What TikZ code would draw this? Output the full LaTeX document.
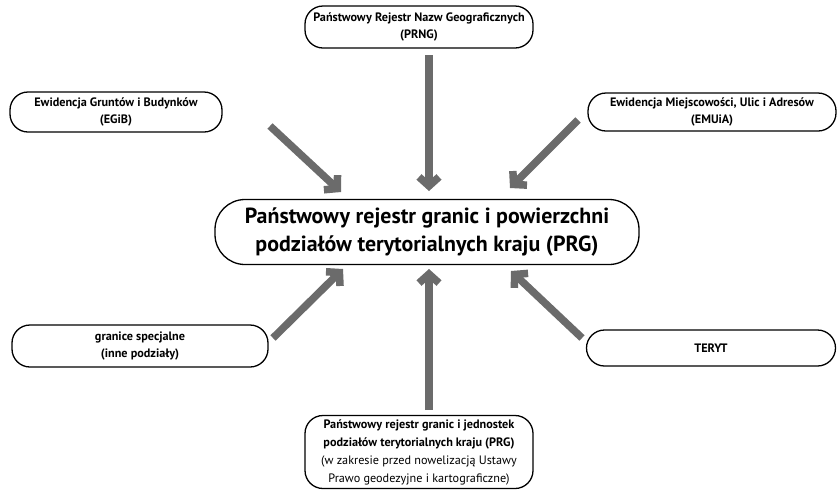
\documentclass[tikz,border=0pt]{standalone}
\usepackage{fontspec}
\setmainfont{PT Sans}
\usetikzlibrary{arrows.meta}
\definecolor{arrgray}{HTML}{6B6B6B}
\tikzset{
  box/.style={draw=black, line width=1.3pt, rounded corners=18pt, align=center, inner sep=0pt, font=\fontsize{12.2}{17.5}\selectfont\bfseries},
  arr/.style={draw=arrgray, line width=7.5pt, -{Straight Barb[length=9pt,width=20pt,line width=7.5pt]}},
}
\begin{document}
\begin{tikzpicture}[x=1pt,y=-1pt]
\useasboundingbox (0,0) rectangle (837,491);
\node[box, minimum width=228pt, minimum height=42pt] (prng) at (419,27) {Państwowy Rejestr Nazw Geograficznych\\(PRNG)};
\node[box, minimum width=212pt, minimum height=40pt] (egib) at (116,112) {Ewidencja Gruntów i Budynków\\(EGiB)};
\node[box, minimum width=248pt, minimum height=38pt] (emuia) at (712,112) {Ewidencja Miejscowości, Ulic i Adresów\\(EMUiA)};
\node[box, rounded corners=30pt, minimum width=424pt, minimum height=65pt, font=\fontsize{21.9}{28}\selectfont\bfseries] (prg) at (427,232) {Państwowy rejestr granic i powierzchni\\podziałów terytorialnych kraju (PRG)};
\node[box, minimum width=256pt, minimum height=42pt] (spec) at (140,346) {granice specjalne\\(inne podziały)};
\node[box, minimum width=249pt, minimum height=36pt] (teryt) at (711,348) {TERYT};
\node[box, minimum width=228pt, minimum height=73pt, font=\fontsize{12.2}{18}\selectfont] (jedn) at (419,452) {\textbf{Państwowy rejestr granic i jednostek}\\\textbf{podziałów terytorialnych kraju (PRG)}\\(w zakresie przed nowelizacją Ustawy\\Prawo geodezyjne i kartograficzne)};
% arrow end points
\coordinate (a1s) at (429,55);  \coordinate (a1e) at (429,191);
\coordinate (a2s) at (270,126); \coordinate (a2e) at (341,192);
\coordinate (a3s) at (578,120); \coordinate (a3e) at (510,188);
\coordinate (a4s) at (273,338); \coordinate (a4e) at (343,269);
\coordinate (a5s) at (429,410); \coordinate (a5e) at (429,269);
\coordinate (a6s) at (582,338); \coordinate (a6e) at (511,271);
\draw[arr] (a1s) -- (a1e);
\draw[arr] (a2s) -- (a2e);
\draw[arr] (a3s) -- (a3e);
\draw[arr] (a4s) -- (a4e);
\draw[arr] (a5s) -- (a5e);
\draw[arr] (a6s) -- (a6e);
\end{tikzpicture}
\end{document}
